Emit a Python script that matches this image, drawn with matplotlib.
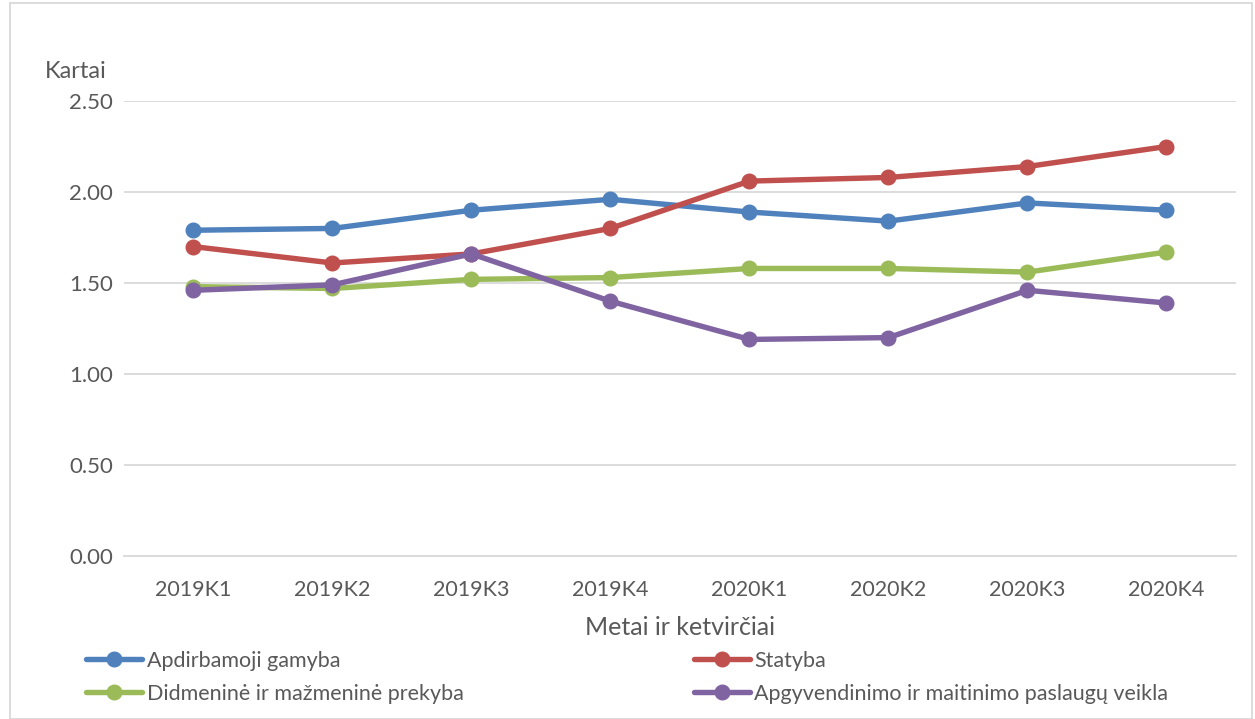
import matplotlib.pyplot as plt
from matplotlib.patches import Rectangle

plt.rcParams['font.family'] = ['Lato', 'DejaVu Sans']

# Data
quarters = ['2019K1', '2019K2', '2019K3', '2019K4', '2020K1', '2020K2', '2020K3', '2020K4']
apdirbamoji = [1.79, 1.80, 1.90, 1.96, 1.89, 1.84, 1.94, 1.90]
statyba = [1.70, 1.61, 1.66, 1.80, 2.06, 2.08, 2.14, 2.25]
prekyba = [1.48, 1.47, 1.52, 1.53, 1.58, 1.58, 1.56, 1.67]
apgyvendinimas = [1.46, 1.49, 1.66, 1.40, 1.19, 1.20, 1.46, 1.39]

series = [
    ('Apdirbamoji gamyba', apdirbamoji, '#4f81bd'),
    ('Statyba', statyba, '#c0504d'),
    ('Didmeninė ir mažmeninė prekyba', prekyba, '#9bbb59'),
    ('Apgyvendinimo ir maitinimo paslaugų veikla', apgyvendinimas, '#8064a2'),
]

text_col = '#595959'

fig = plt.figure(figsize=(12.55, 7.19), dpi=100)
ax = fig.add_axes([0.0988, 0.2267, 0.886, 0.6328])

x = range(len(quarters))
lines = []
for name, vals, col in series:
    ln, = ax.plot(x, vals, color=col, linewidth=3.9, marker='o', markersize=10.5, label=name,
                  solid_capstyle='round')
    lines.append(ln)

ax.set_ylim(0, 2.5)
ax.set_xlim(-0.5, len(quarters) - 0.5)
yt = [0, 0.5, 1.0, 1.5, 2.0, 2.5]
ax.set_yticks(yt)
ax.set_yticklabels(['%.2f' % v for v in yt])
ax.set_xticks(list(x))
ax.set_xticklabels(quarters)
ax.tick_params(axis='x', length=0, labelsize=15.5, colors=text_col, pad=17)
ax.tick_params(axis='y', length=0, labelsize=16, colors=text_col, pad=8)
ax.grid(axis='y', color='#d9d9d9', linewidth=1.3)
ax.set_axisbelow(True)
for s in ['top', 'right', 'left']:
    ax.spines[s].set_visible(False)
ax.spines['bottom'].set_color('#d9d9d9')
ax.spines['bottom'].set_linewidth(1.3)

ax.set_xlabel('Metai ir ketvirčiai', fontsize=18, color=text_col, labelpad=12)
fig.text(0.036, 0.892, 'Kartai', fontsize=17, color=text_col)

# legend rows: (Apdirbamoji, Statyba), (Didmeninė, Apgyvendinimo)
order = [0, 2, 1, 3]
leg = fig.legend([lines[i] for i in order], [series[i][0] for i in order],
                 loc='upper left', bbox_to_anchor=(0.062, 0.107), ncol=2, frameon=False,
                 fontsize=15.5, handlelength=2.6, columnspacing=10.7, labelspacing=0.6,
                 handletextpad=0.2, borderaxespad=0)
for t in leg.get_texts():
    t.set_color(text_col)

# outer chart border
fig.patches.append(Rectangle((0.008, 0.0), 0.99, 0.996, transform=fig.transFigure,
                             fill=False, edgecolor='#d9d9d9', linewidth=1.3))

fig.savefig('out.png', dpi=100)
